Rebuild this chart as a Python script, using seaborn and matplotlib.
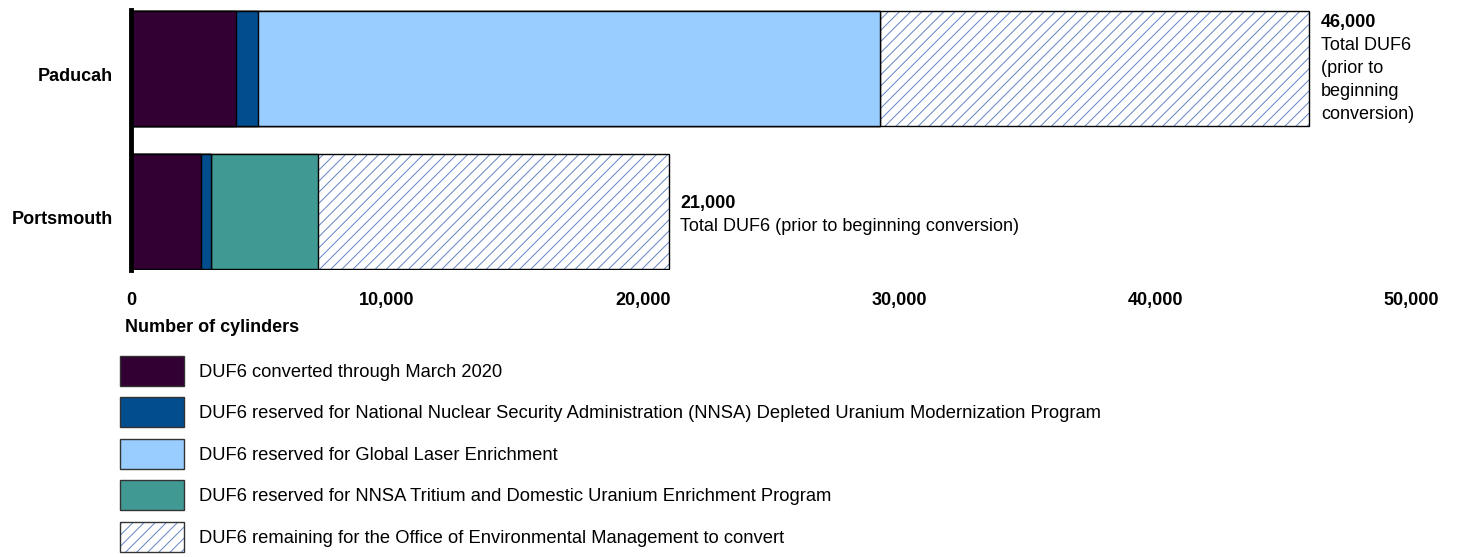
import pandas as pd
import seaborn as sns
import matplotlib.pyplot as plt
from matplotlib.patches import Patch
from matplotlib.ticker import FuncFormatter
from matplotlib.transforms import ScaledTranslation

# values (number of cylinders)
sites = ["Paducah", "Portsmouth"]
converted = [4100, 2730]
nnsa_dum = [860, 400]
gle = [24300, 0]
tritium = [0, 4170]
totals = [46000, 21000]
total_labels = ["46,000", "21,000"]
total_notes = ["Total DUF6\n(prior to\nbeginning\nconversion)",
               "Total DUF6 (prior to beginning conversion)"]

legend_labels = [
    "DUF6 converted through March 2020",
    "DUF6 reserved for National Nuclear Security Administration (NNSA) Depleted Uranium Modernization Program",
    "DUF6 reserved for Global Laser Enrichment",
    "DUF6 reserved for NNSA Tritium and Domestic Uranium Enrichment Program",
    "DUF6 remaining for the Office of Environmental Management to convert",
]

c_purple = "#330033"
c_blue = "#014d8e"
c_light = "#99ccff"
c_teal = "#409a93"
c_hatch = "#6283c4"

df = pd.DataFrame({"site": sites, "converted": converted, "dum": nnsa_dum,
                   "gle": gle, "tritium": tritium, "total": totals})
df["c1"] = df["converted"]
df["c2"] = df["c1"] + df["dum"]
df["c3"] = df["c2"] + df["gle"]
df["c4"] = df["c3"] + df["tritium"]

sns.set_style("white")
plt.rcParams["font.family"] = ["Liberation Sans", "DejaVu Sans"]
plt.rcParams["hatch.linewidth"] = 0.7
for k in ["text.color", "axes.labelcolor", "xtick.color", "ytick.color"]:
    plt.rcParams[k] = "black"

fig = plt.figure(figsize=(14.62, 5.57), dpi=100)
ax = fig.add_axes([131 / 1462, 1 - 270 / 557, 1280 / 1462, 260 / 557])

bw = 0.81
common = dict(data=df, y="site", orient="h", width=bw, errorbar=None,
              saturation=1, ax=ax)

# hatched remainder (full total), then stacked segments on top
sns.barplot(x="total", color="white", edgecolor=c_hatch, hatch="///",
            linewidth=0, **common)
sns.barplot(x="total", fill=False, color="black", linewidth=1, **common)
for col, colr in [("c4", c_teal), ("c3", c_light), ("c2", c_blue), ("c1", c_purple)]:
    sns.barplot(x=col, color=colr, edgecolor="black", linewidth=1, **common)

ax.set_xlim(0, 50000)
ax.set_ylim(1 + bw / 2 + 0.005, -bw / 2 - 0.005)
ax.set_xticks(range(0, 50001, 10000))
ax.xaxis.set_major_formatter(FuncFormatter(lambda v, p: f"{int(v):,}"))
ax.tick_params(axis="x", length=0, pad=16, labelsize=13)
ax.tick_params(axis="y", length=0, pad=13, labelsize=13)
for lab in ax.get_xticklabels() + ax.get_yticklabels():
    lab.set_fontweight("bold")
shift = ScaledTranslation(0, -6 / 100, fig.dpi_scale_trans)
for lab in ax.get_yticklabels():
    lab.set_transform(lab.get_transform() + shift)
ax.set_xlabel("")
ax.set_ylabel("")
for s in ["top", "right", "bottom"]:
    ax.spines[s].set_visible(False)
ax.spines["left"].set_linewidth(3.5)
ax.spines["left"].set_color("black")

# total annotations
ax.annotate(total_labels[0], xy=(totals[0], -bw / 2), xytext=(9, -8.6),
            textcoords="offset points", ha="left", va="center",
            fontsize=13, fontweight="bold")
ax.annotate(total_notes[0], xy=(totals[0], -bw / 2), xytext=(9, -19),
            textcoords="offset points", ha="left", va="top",
            fontsize=13, linespacing=1.45)
ax.annotate(total_labels[1], xy=(totals[1], 1), xytext=(8.5, 5.8),
            textcoords="offset points", ha="left", va="center",
            fontsize=13, fontweight="bold")
ax.annotate(total_notes[1], xy=(totals[1], 1), xytext=(8.5, -10.8),
            textcoords="offset points", ha="left", va="center", fontsize=13)

fig.text(125 / 1462, 1 - 328 / 557, "Number of cylinders", fontsize=13,
         fontweight="bold", ha="left", va="center")

handles = [
    Patch(facecolor=c_purple, edgecolor="#333333"),
    Patch(facecolor=c_blue, edgecolor="#333333"),
    Patch(facecolor=c_light, edgecolor="#333333"),
    Patch(facecolor=c_teal, edgecolor="#333333"),
    (Patch(facecolor="white", edgecolor=c_hatch, hatch="///", linewidth=0),
     Patch(facecolor="none", edgecolor="#333333")),
]
fig.legend(handles, legend_labels, loc="upper left",
           bbox_to_anchor=(120 / 1462, 1 - 356 / 557), frameon=False,
           fontsize=13.25, handlelength=3.48, handleheight=2.13,
           handletextpad=0.82, labelspacing=0.625, borderpad=0,
           borderaxespad=0)

fig.savefig("out.png", dpi=100)
